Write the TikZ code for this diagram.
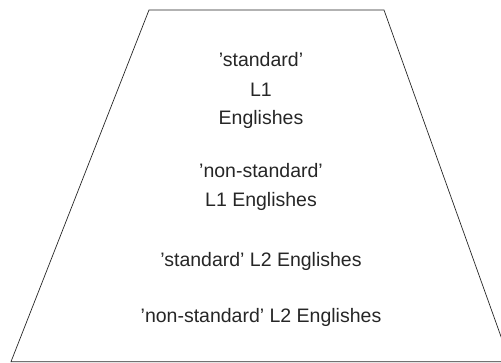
\documentclass[tikz,border=0pt]{standalone}
\usepackage{fontspec}
\setmainfont{Liberation Sans}
\begin{document}
\begin{tikzpicture}[x=1pt,y=1pt,
  edge/.style={draw=black!85,line width=0.7pt,line join=miter},
  lbl/.style={anchor=base,inner sep=0pt,font=\fontsize{19.5}{24}\selectfont,text=black!85}]
\useasboundingbox (0,0) rectangle (501,363);
\clip (0,0) rectangle (501,363);
\coordinate (tl) at (149,353);
\coordinate (tr) at (384,353);
\coordinate (bl) at (11,1.3);
\coordinate (br) at (510,1.3);
\draw[edge] (bl) -- (tl) -- (tr) -- (br) -- cycle;
\node[lbl] (a1) at (261,296) {'standard'};
\node[lbl] (a2) at (261,266) {L1};
\node[lbl] (a3) at (261,238) {Englishes};
\node[lbl] (b1) at (261,185) {'non-standard'};
\node[lbl] (b2) at (261,156) {L1 Englishes};
\node[lbl] (c1) at (261,96) {'standard' L2 Englishes};
\node[lbl] (d1) at (261,40) {'non-standard' L2 Englishes};
\end{tikzpicture}
\end{document}
